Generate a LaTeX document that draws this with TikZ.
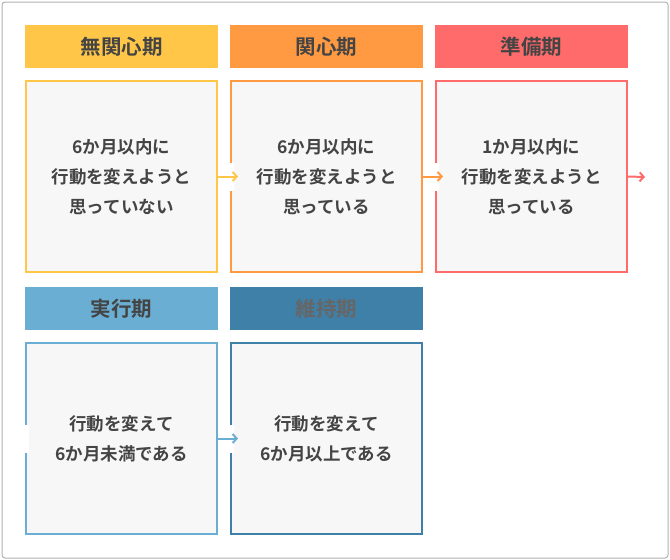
\documentclass[tikz,border=0pt]{standalone}
\usepackage{fontspec}
\newfontfamily\jp{Noto Sans CJK JP}[BoldFont={Noto Sans CJK JP Bold}]
\usetikzlibrary{arrows.meta}
\definecolor{cY}{HTML}{FFC648}
\definecolor{cO}{HTML}{FF9A42}
\definecolor{cR}{HTML}{FF6B6B}
\definecolor{cL}{HTML}{6AAFD3}
\definecolor{cD}{HTML}{3F80A8}
\definecolor{tx}{HTML}{444444}
\definecolor{bg}{HTML}{F7F7F7}
\tikzset{
 hdr/.style={fill=#1,minimum width=193pt,minimum height=43pt,inner sep=0,font=\jp\bfseries\fontsize{20.5}{24}\selectfont,text=tx},
 body/.style={draw=#1,line width=2pt,fill=bg,minimum width=191pt,minimum height=191pt,inner sep=0,align=center,font=\jp\bfseries\fontsize{17.5}{30}\selectfont,text=tx},
 arr/.style={draw=#1,line width=2pt,-{Straight Barb[length=4pt,width=9pt]}},
}
\begin{document}
\begin{tikzpicture}[x=1pt,y=-1pt]
\useasboundingbox (0,0) rectangle (670,560);
\draw[draw=black!30,line width=1pt,fill=white,rounded corners=3pt] (2,2) rectangle (668,558);
\node[hdr=cY] (h1) at (121.5,46.5) {無関心期};
\node[hdr=cO] (h2) at (326.5,46.5) {関心期};
\node[hdr=cR] (h3) at (531.5,46.5) {準備期};
\node[hdr=cL] (h4) at (121.5,308.5) {実行期};
\node[hdr=cD,text=black!60] (h5) at (326.5,308.5) {維持期};
\node[body=cY] (b1) at (121.5,176.5) {6か月以内に\\行動を変えようと\\思っていない};
\node[body=cO] (b2) at (326.5,176.5) {6か月以内に\\行動を変えようと\\思っている};
\node[body=cR] (b3) at (531.5,176.5) {1か月以内に\\行動を変えようと\\思っている};
\node[body=cL] (b4) at (121.5,438.5) {行動を変えて\\6か月未満である};
\node[body=cD] (b5) at (326.5,438.5) {行動を変えて\\6か月以上である};
\fill[white] (226,163) rectangle (234,191);
\fill[white] (431,163) rectangle (439,191);
\fill[white] (21,425) rectangle (29,453);
\fill[white] (226,425) rectangle (234,453);
\coordinate (e3) at (645,177);
\coordinate (s4) at (12,439);
\draw[arr=cY] (b1.east) -- ++(20,0);
\draw[arr=cO] (b2.east) -- ++(20,0);
\draw[arr=cR] (b3.east) -- (e3);
\draw[arr=white] (s4) -- (b4.west);
\draw[arr=cL] (b4.east) -- ++(20,0);
\end{tikzpicture}
\end{document}
